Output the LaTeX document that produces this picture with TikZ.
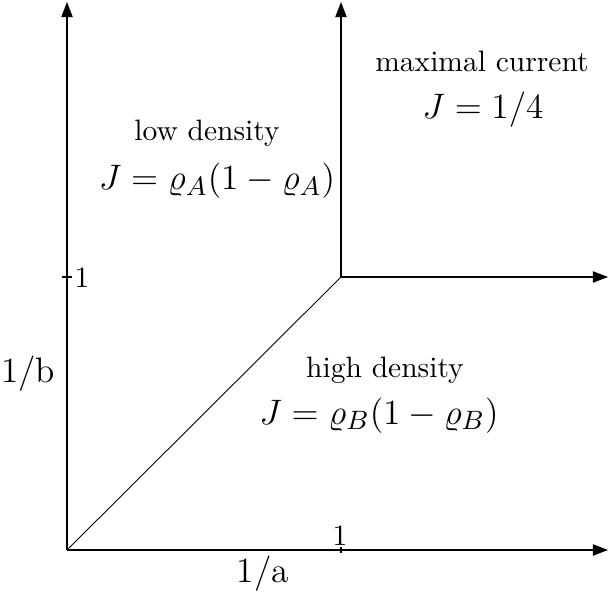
\documentclass[tikz,border=0pt]{standalone}
\usetikzlibrary{arrows.meta}
\begin{document}
\begin{tikzpicture}[x=0.339pt, y=-0.339pt,
  axis/.style={line width=0.4pt, -{Triangle[length=5.1pt, width=3.8pt]}},
  thin line/.style={line width=0.3pt},
  lbl/.style={anchor=base, inner sep=0pt, font=\fontsize{10}{12}\selectfont},
  mlbl/.style={anchor=base, inner sep=0pt, font=\fontsize{12.3}{14}\selectfont},
  albl/.style={anchor=base, inner sep=0pt, font=\fontsize{12}{14}\selectfont}]
\useasboundingbox (0,0) rectangle (609,596);
\coordinate (O) at (67,550);
\coordinate (P) at (341,277);
\coordinate (Ytop) at (67,2);
\coordinate (Xend) at (608,550);
\coordinate (Ptop) at (341,2);
\coordinate (Pend) at (608,277);
\coordinate (YtA) at (62,277);
\coordinate (YtB) at (72,277);
\coordinate (XtA) at (341,547);
\coordinate (XtB) at (341,553);
\draw[axis] (O) -- (Ytop);
\draw[axis] (O) -- (Xend);
\draw[axis] (P) -- (Ptop);
\draw[axis] (P) -- (Pend);
\draw[thin line] (O) -- (P);
\draw[line width=0.35pt] (YtA) -- (YtB);
\draw[line width=0.35pt] (XtA) -- (XtB);
\node[lbl] (y1) at (82,287) {1};
\node[lbl] (x1) at (340,545) {1};
\node[lbl] (mc) at (482,72) {maximal current};
\node[mlbl] (mcJ) at (483,119) {$J=1/4$};
\node[lbl] (ld) at (207,141) {low density};
\node[mlbl] (ldJ) at (217,190) {$J=\varrho_A(1-\varrho_A)$};
\node[lbl] (hd) at (385,377) {high density};
\node[mlbl] (hdJ) at (379,424) {$J=\varrho_B(1-\varrho_B)$};
\node[albl] (lb) at (28,382) {1/b};
\node[albl] (la) at (263,582) {1/a};
\end{tikzpicture}
\end{document}
